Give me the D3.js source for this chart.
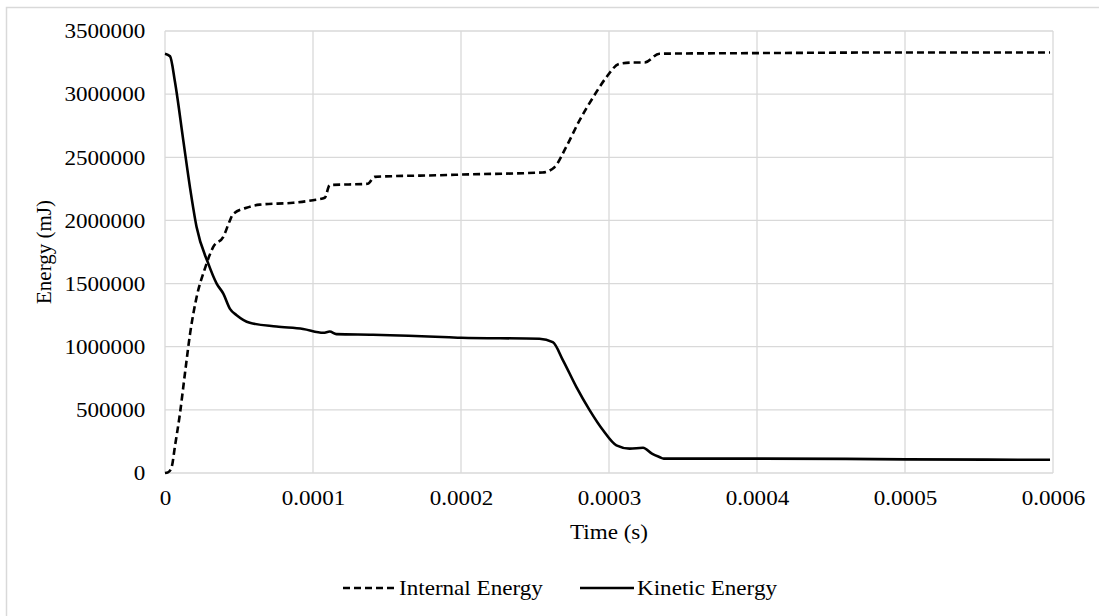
<!DOCTYPE html>
<html lang="en">
<head>
	<meta charset="UTF-8">
	<title>Energy vs time</title>
	<script src="https://cdn.jsdelivr.net/npm/d3@7"></script>
	<style>
		body { margin: 0; background: #fff; }
		text { font-family: "Liberation Serif", "Times New Roman", serif; fill: #000; }
	</style>
</head>
<body>
<div id="chart"></div>
<script>
// data (time in s, energy in mJ)
var timeInternal = [0, 0.000002, 0.0000045, 0.0000067, 0.0000101, 0.0000135, 0.0000169, 0.0000213, 0.000027, 0.0000326,
	0.0000394, 0.0000439, 0.000046, 0.0000551, 0.000064, 0.0000866, 0.0001, 0.000108, 0.0001113, 0.000137,
	0.0001417, 0.000192, 0.0002, 0.000255, 0.000263, 0.000271, 0.00028, 0.000289, 0.000298, 0.000307,
	0.000316, 0.000324, 0.000334, 0.0004, 0.0005, 0.000598];
var internalEnergy = [0, 5000, 47000, 210000, 470000, 790000, 1100000, 1390000, 1620000, 1790000,
	1870000, 2000000, 2050000, 2100000, 2125000, 2140000, 2160000, 2180000, 2280000, 2290000,
	2345000, 2360000, 2363000, 2380000, 2420000, 2580000, 2790000, 2970000, 3130000, 3240000,
	3250000, 3250000, 3320000, 3325000, 3330000, 3330000];

var timeKinetic = [0, 0.0000034, 0.0000067, 0.0000124, 0.0000169, 0.0000213, 0.0000292, 0.0000349, 0.0000394, 0.0000439,
	0.0000484, 0.0000573, 0.0000753, 0.0000933, 0.000107, 0.0001113, 0.0001158, 0.0001405, 0.000192, 0.0002,
	0.000253, 0.000262, 0.000269, 0.000278, 0.000287, 0.000296, 0.000305, 0.000314, 0.000323, 0.000329,
	0.000334, 0.000337, 0.0004, 0.00046, 0.0005, 0.000598];
var kineticEnergy = [3320000, 3300000, 3100000, 2630000, 2260000, 1950000, 1660000, 1500000, 1420000, 1300000,
	1250000, 1190000, 1160000, 1140000, 1110000, 1120000, 1100000, 1095000, 1075000, 1071000,
	1063000, 1036000, 890000, 680000, 496000, 338000, 219000, 193000, 200000, 153000,
	127000, 114000, 114000, 112000, 108000, 105000];

var xTicks = [0, 0.0001, 0.0002, 0.0003, 0.0004, 0.0005, 0.0006];
var yTicks = [0, 500000, 1000000, 1500000, 2000000, 2500000, 3000000, 3500000];
var seriesNames = ["Internal Energy", "Kinetic Energy"];

window.onload = function(){
	var W = 1099, H = 616;
	var pL = 165, pR = 1053, pT = 31, pB = 473;
	var sx = 1.1; // the reference type is a bit wide

	var svg = d3.select("#chart").append("svg")
		.attr("width", W)
		.attr("height", H);

	// outer chart border (cut off at right and bottom)
	svg.append("rect")
		.attr("x", 6.5).attr("y", 7.5)
		.attr("width", W + 10).attr("height", H + 10)
		.attr("fill", "none")
		.attr("stroke", "#d9d9d9")
		.attr("stroke-width", 1.5);

	var x = d3.scaleLinear().domain([0, 0.0006]).range([pL, pR]);
	var y = d3.scaleLinear().domain([0, 3500000]).range([pB, pT]);

	// grid
	svg.append("g").selectAll("line").data(yTicks).enter().append("line")
		.attr("x1", pL).attr("x2", pR)
		.attr("y1", function(d){ return y(d); })
		.attr("y2", function(d){ return y(d); })
		.attr("stroke", "#d9d9d9").attr("stroke-width", 1.3);
	svg.append("g").selectAll("line").data(xTicks).enter().append("line")
		.attr("x1", function(d){ return x(d); })
		.attr("x2", function(d){ return x(d); })
		.attr("y1", pT).attr("y2", pB)
		.attr("stroke", "#d9d9d9").attr("stroke-width", 1.3);

	// axes (labels only)
	var yAxis = svg.append("g")
		.attr("transform", "translate(" + pL + ",0)")
		.call(d3.axisLeft(y).tickValues(yTicks).tickFormat(d3.format("d")).tickSize(0).tickPadding(18));
	yAxis.select(".domain").remove();
	yAxis.attr("font-family", null);
	yAxis.selectAll("text").style("font-size", "21px").attr("transform", "scale(" + sx + ",1)");

	var xAxis = svg.append("g")
		.attr("transform", "translate(0," + pB + ")")
		.call(d3.axisBottom(x).tickValues(xTicks)
			.tickFormat(function(d){ return d === 0 ? "0" : d3.format(".4f")(d); })
			.tickSize(0).tickPadding(17));
	xAxis.select(".domain").remove();
	xAxis.attr("font-family", null);
	xAxis.selectAll("text").style("font-size", "21px").attr("transform", "scale(" + sx + ",1)");

	// axis titles
	svg.append("text")
		.attr("transform", "translate(" + (pL + pR) / 2 + ",539) scale(" + sx + ",1)")
		.attr("text-anchor", "middle")
		.style("font-size", "21px")
		.text("Time (s)");
	svg.append("text")
		.attr("transform", "translate(51," + (pT + pB) / 2 + ") rotate(-90)")
		.attr("text-anchor", "middle")
		.style("font-size", "21px")
		.text("Energy (mJ)");

	// lines
	var line = d3.line()
		.x(function(d){ return x(d[0]); })
		.y(function(d){ return y(d[1]); })
		.curve(d3.curveMonotoneX);

	svg.append("path")
		.attr("d", line(d3.zip(timeInternal, internalEnergy)))
		.attr("fill", "none")
		.attr("stroke", "#000")
		.attr("stroke-width", 2.6)
		.attr("stroke-dasharray", "7,4");
	svg.append("path")
		.attr("d", line(d3.zip(timeKinetic, kineticEnergy)))
		.attr("fill", "none")
		.attr("stroke", "#000")
		.attr("stroke-width", 2.6);

	// legend
	var legendY = 588;
	var legend = [
		{name: seriesNames[0], x1: 343, x2: 396, dash: "7,4"},
		{name: seriesNames[1], x1: 580, x2: 634, dash: null}
	];
	var lg = svg.append("g").selectAll("g").data(legend).enter().append("g");
	lg.append("line")
		.attr("x1", function(d){ return d.x1; })
		.attr("x2", function(d){ return d.x2; })
		.attr("y1", legendY).attr("y2", legendY)
		.attr("stroke", "#000").attr("stroke-width", 2.6)
		.attr("stroke-dasharray", function(d){ return d.dash; });
	lg.append("text")
		.attr("transform", function(d){ return "translate(" + (d.x2 + 3) + "," + (legendY + 7) + ") scale(" + sx + ",1)"; })
		.style("font-size", "21px")
		.text(function(d){ return d.name; });
};
</script>
</body>
</html>
